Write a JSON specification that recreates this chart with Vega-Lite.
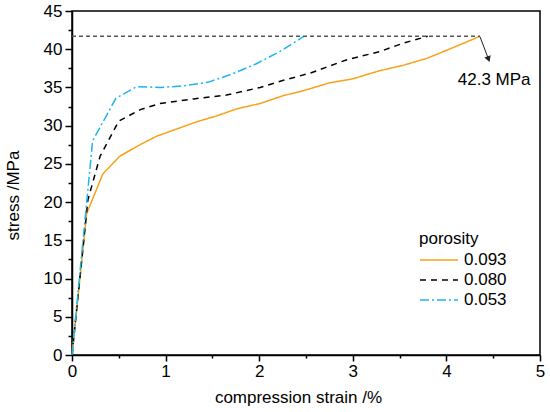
{
  "$schema": "https://vega.github.io/schema/vega-lite/v6.json",
  "width": 468,
  "height": 344,
  "autosize": "none",
  "padding": {"left": 72, "top": 11, "right": 10, "bottom": 57},
  "background": "white",
  "config": {
    "font": "Liberation Sans",
    "view": {"stroke": "black", "strokeWidth": 1.5},
    "axis": {
      "domainColor": "black",
      "domainWidth": 1.5,
      "tickColor": "black",
      "tickWidth": 1.5,
      "grid": false,
      "labelFont": "Liberation Sans",
      "labelFontSize": 17,
      "labelColor": "black",
      "titleFont": "Liberation Sans",
      "titleFontSize": 17,
      "titleFontWeight": "normal",
      "titleColor": "black"
    }
  },
  "datasets": {
    "curves": [
      {"strain": 0, "stress": 0, "porosity": "0.093"},
      {"strain": 0.157, "stress": 18.5, "porosity": "0.093"},
      {"strain": 0.33, "stress": 23.7, "porosity": "0.093"},
      {"strain": 0.51, "stress": 26.0, "porosity": "0.093"},
      {"strain": 0.71, "stress": 27.4, "porosity": "0.093"},
      {"strain": 0.9, "stress": 28.6, "porosity": "0.093"},
      {"strain": 1.15, "stress": 29.7, "porosity": "0.093"},
      {"strain": 1.33, "stress": 30.5, "porosity": "0.093"},
      {"strain": 1.55, "stress": 31.3, "porosity": "0.093"},
      {"strain": 1.76, "stress": 32.2, "porosity": "0.093"},
      {"strain": 2.01, "stress": 32.9, "porosity": "0.093"},
      {"strain": 2.25, "stress": 33.9, "porosity": "0.093"},
      {"strain": 2.48, "stress": 34.6, "porosity": "0.093"},
      {"strain": 2.75, "stress": 35.6, "porosity": "0.093"},
      {"strain": 2.99, "stress": 36.1, "porosity": "0.093"},
      {"strain": 3.29, "stress": 37.2, "porosity": "0.093"},
      {"strain": 3.54, "stress": 37.9, "porosity": "0.093"},
      {"strain": 3.79, "stress": 38.8, "porosity": "0.093"},
      {"strain": 4.07, "stress": 40.2, "porosity": "0.093"},
      {"strain": 4.36, "stress": 41.7, "porosity": "0.093"},
      {"strain": 0, "stress": 0, "porosity": "0.080"},
      {"strain": 0.17, "stress": 20.3, "porosity": "0.080"},
      {"strain": 0.3, "stress": 26.0, "porosity": "0.080"},
      {"strain": 0.5, "stress": 30.6, "porosity": "0.080"},
      {"strain": 0.73, "stress": 32.1, "porosity": "0.080"},
      {"strain": 0.94, "stress": 32.9, "porosity": "0.080"},
      {"strain": 1.3, "stress": 33.5, "porosity": "0.080"},
      {"strain": 1.65, "stress": 34.0, "porosity": "0.080"},
      {"strain": 2.01, "stress": 35.0, "porosity": "0.080"},
      {"strain": 2.25, "stress": 35.9, "porosity": "0.080"},
      {"strain": 2.55, "stress": 36.9, "porosity": "0.080"},
      {"strain": 2.93, "stress": 38.6, "porosity": "0.080"},
      {"strain": 3.29, "stress": 39.7, "porosity": "0.080"},
      {"strain": 3.54, "stress": 40.8, "porosity": "0.080"},
      {"strain": 3.8, "stress": 41.7, "porosity": "0.080"},
      {"strain": 0, "stress": 0, "porosity": "0.053"},
      {"strain": 0.22, "stress": 28.0, "porosity": "0.053"},
      {"strain": 0.47, "stress": 33.6, "porosity": "0.053"},
      {"strain": 0.69, "stress": 35.1, "porosity": "0.053"},
      {"strain": 0.94, "stress": 35.0, "porosity": "0.053"},
      {"strain": 1.19, "stress": 35.2, "porosity": "0.053"},
      {"strain": 1.46, "stress": 35.7, "porosity": "0.053"},
      {"strain": 1.72, "stress": 36.8, "porosity": "0.053"},
      {"strain": 1.97, "stress": 38.1, "porosity": "0.053"},
      {"strain": 2.22, "stress": 39.7, "porosity": "0.053"},
      {"strain": 2.48, "stress": 41.7, "porosity": "0.053"}
    ],
    "peak": [
      {"strain": 0, "strain_end": 4.36, "stress": 41.7}
    ],
    "arrow": [
      {"strain": 4.36, "stress": 41.6, "strain_end": 4.45, "stress_end": 38.7},
      {"strain": 4.51, "stress": 36.0, "label": "42.3 MPa"}
    ]
  },
  "encoding": {
    "x": {
      "field": "strain",
      "type": "quantitative",
      "title": "compression strain /%",
      "scale": {"domain": [0, 5], "nice": false},
      "axis": {
        "values": [0, 0.5, 1, 1.5, 2, 2.5, 3, 3.5, 4, 4.5, 5],
        "labelOverlap": false,
        "labelFlush": false,
        "labelExpr": "datum.value % 1 === 0 ? format(datum.value, 'd') : ''",
        "tickSize": {"condition": {"test": "datum.value % 1 === 0", "value": 6}, "value": 3},
        "labelPadding": 2,
        "titlePadding": 10,
        "titleX": 226
      }
    },
    "y": {
      "field": "stress",
      "type": "quantitative",
      "title": "stress /MPa",
      "scale": {"domain": [0, 45], "nice": false},
      "axis": {
        "values": [0, 2.5, 5, 7.5, 10, 12.5, 15, 17.5, 20, 22.5, 25, 27.5, 30, 32.5, 35, 37.5, 40, 42.5, 45],
        "labelOverlap": false,
        "labelFlush": false,
        "labelExpr": "datum.value % 5 === 0 ? format(datum.value, 'd') : ''",
        "tickSize": {"condition": {"test": "datum.value % 5 === 0", "value": 7}, "value": 4},
        "labelPadding": 3,
        "titlePadding": 21,
        "titleY": 184
      }
    }
  },
  "layer": [
    {
      "data": {"name": "curves"},
      "mark": {"type": "line", "strokeWidth": 1.5},
      "encoding": {
        "color": {
          "field": "porosity",
          "type": "nominal",
          "scale": {"domain": ["0.093", "0.080", "0.053"], "range": ["#F9A11B", "#000000", "#1CB6EE"]},
          "legend": {
            "title": "porosity",
            "orient": "none",
            "legendX": 347,
            "legendY": 220,
            "symbolType": "M-1,0H2.8",
            "symbolSize": 400,
            "symbolStrokeWidth": 1.5,
            "titleFontSize": 17,
            "titleFontWeight": "normal",
            "titleFont": "Liberation Sans",
            "titleColor": "black",
            "titlePadding": 1,
            "labelFontSize": 17,
            "labelFont": "Liberation Sans",
            "labelColor": "black",
            "labelOffset": 23,
            "rowPadding": 1
          }
        },
        "strokeDash": {
          "field": "porosity",
          "type": "nominal",
          "scale": {"domain": ["0.093", "0.080", "0.053"], "range": [[1, 0], [6, 5], [9, 3, 2, 3]]},
          "legend": null
        }
      }
    },
    {
      "data": {"name": "peak"},
      "mark": {"type": "rule", "color": "#555555", "strokeWidth": 1.3, "strokeDash": [4, 3]},
      "encoding": {
        "x2": {"field": "strain_end"}
      }
    },
    {
      "data": {"name": "arrow"},
      "transform": [{"filter": "datum.label == null"}],
      "mark": {"type": "rule", "color": "#222222", "strokeWidth": 1},
      "encoding": {
        "x2": {"field": "strain_end"},
        "y2": {"field": "stress_end"}
      }
    },
    {
      "data": {"name": "arrow"},
      "transform": [{"filter": "datum.label == null"}],
      "mark": {"type": "point", "shape": "triangle-down", "filled": true, "color": "#222222", "size": 45, "angle": -20, "opacity": 1},
      "encoding": {
        "x": {"field": "strain_end", "type": "quantitative"},
        "y": {"field": "stress_end", "type": "quantitative"}
      }
    },
    {
      "data": {"name": "arrow"},
      "transform": [{"filter": "datum.label != null"}],
      "mark": {"type": "text", "fontSize": 17, "font": "Liberation Sans", "color": "black", "align": "center", "baseline": "middle"},
      "encoding": {
        "text": {"field": "label"}
      }
    }
  ]
}
